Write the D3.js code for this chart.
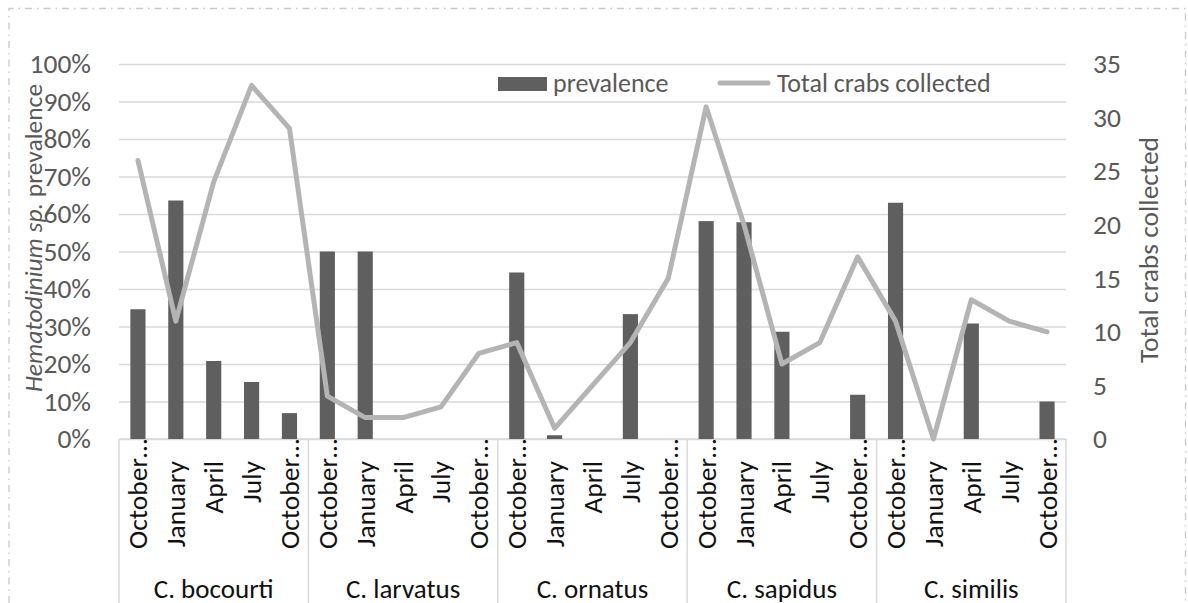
<!DOCTYPE html>
<html>
<head>
<meta charset="utf-8">
<script src="https://cdn.jsdelivr.net/npm/d3@7"></script>
<style>
  html, body { margin: 0; padding: 0; background: #fff; }
  svg { display: block; font-family: Carlito, Calibri, Lato, sans-serif; }
</style>
</head>
<body>
<svg id="chart" width="1188" height="603"></svg>
<script>
// Species groups and the sampling months within each group
const species = ["C. bocourti", "C. larvatus", "C. ornatus", "C. sapidus", "C. similis"];
const months = ["October…", "January", "April", "July", "October…"];

// Hematodinium sp. prevalence (fraction infected), one value per species × month
const prevBocourti = [0.346, 0.636, 0.208, 0.152, 0.069];
const prevLarvatus = [0.50, 0.50, 0, 0, 0];
const prevOrnatus  = [0.444, 0.01, 0, 0.333, 0];
const prevSapidus  = [0.581, 0.578, 0.286, 0, 0.118];
const prevSimilis  = [0.63, 0, 0.308, 0, 0.10];

// Total crabs collected, one value per species × month
const totBocourti = [26, 11, 24, 33, 29];
const totLarvatus = [4, 2, 2, 3, 8];
const totOrnatus  = [9, 1, 5, 9, 15];
const totSapidus  = [31, 20, 7, 9, 17];
const totSimilis  = [11, 0, 13, 11, 10];

const leftTicks = [0, 0.1, 0.2, 0.3, 0.4, 0.5, 0.6, 0.7, 0.8, 0.9, 1.0];
const rightTicks = [0, 5, 10, 15, 20, 25, 30, 35];

const prevalence = [prevBocourti, prevLarvatus, prevOrnatus, prevSapidus, prevSimilis];
const totals = [totBocourti, totLarvatus, totOrnatus, totSapidus, totSimilis];

// Flatten into one row per category slot
const rows = [];
species.forEach((sp, g) => {
  months.forEach((m, k) => {
    rows.push({ idx: rows.length, group: g, species: sp, month: m,
                prev: prevalence[g][k], total: totals[g][k] });
  });
});

const svg = d3.select("#chart");
const plot = { left: 119, right: 1066, top: 64, bottom: 439 };

const x = d3.scaleBand()
  .domain(rows.map(d => d.idx))
  .range([plot.left, plot.right])
  .paddingInner(0).paddingOuter(0);

const yL = d3.scaleLinear().domain([0, 1]).range([plot.bottom, plot.top]);
const yR = d3.scaleLinear().domain([0, 35]).range([plot.bottom, plot.top]);

const textGrey = "#595959";
const gridGrey = "#d9d9d9";
const barFill = "#5f5f5f";
const lineGrey = "#b4b4b4";
const fontStack = "Carlito, Calibri, Lato, sans-serif";

// Outer chart border (dash-dot)
svg.append("path")
  .attr("d", "M9,603 V8.5 H1185.5 V603")
  .attr("fill", "none")
  .attr("stroke", "#c8c8c8")
  .attr("stroke-width", 1.3)
  .attr("stroke-dasharray", "7,5,1.5,5");

// Horizontal gridlines
svg.append("g")
  .attr("transform", `translate(${plot.left},0)`)
  .call(d3.axisRight(yL).tickValues(leftTicks).tickSize(plot.right - plot.left).tickFormat(""))
  .call(g => g.select(".domain").remove())
  .call(g => g.selectAll(".tick line").attr("stroke", gridGrey).attr("stroke-width", 1.5));

// Left axis tick labels
svg.append("g")
  .attr("transform", `translate(${plot.left},0)`)
  .call(d3.axisLeft(yL).tickValues(leftTicks).tickSize(0).tickPadding(28).tickFormat(d3.format(".0%")))
  .call(g => g.select(".domain").remove())
  .call(g => g.selectAll("text").attr("fill", textGrey).style("font-size", "27.5px")
    .style("font-family", fontStack));

// Right axis tick labels
svg.append("g")
  .attr("transform", `translate(${plot.right},0)`)
  .call(d3.axisRight(yR).tickValues(rightTicks).tickSize(0).tickPadding(27))
  .call(g => g.select(".domain").remove())
  .call(g => g.selectAll("text").attr("fill", textGrey).style("font-size", "27.5px")
    .style("font-family", fontStack));

// Axis titles
const leftTitle = svg.append("text")
  .attr("transform", `translate(33,238) rotate(-90)`)
  .attr("text-anchor", "middle")
  .attr("dominant-baseline", "central")
  .attr("fill", textGrey)
  .style("font-size", "25.5px");
leftTitle.append("tspan").style("font-style", "italic").text("Hematodinium sp.");
leftTitle.append("tspan").text(" prevalence");

svg.append("text")
  .attr("transform", `translate(1148,250) rotate(-90)`)
  .attr("text-anchor", "middle")
  .attr("dominant-baseline", "central")
  .attr("fill", textGrey)
  .style("font-size", "27.5px")
  .text("Total crabs collected");

// Category axis baseline and group separators
svg.append("line")
  .attr("x1", plot.left).attr("x2", plot.right)
  .attr("y1", plot.bottom).attr("y2", plot.bottom)
  .attr("stroke", gridGrey).attr("stroke-width", 1.5);

const boundaries = d3.range(species.length + 1).map(g =>
  g < species.length ? x(g * months.length) : plot.right);
svg.append("g").selectAll("line")
  .data(boundaries)
  .join("line")
  .attr("x1", d => d).attr("x2", d => d)
  .attr("y1", plot.bottom).attr("y2", 603)
  .attr("stroke", gridGrey).attr("stroke-width", 1.5);

// Bars
const barW = x.bandwidth() * 0.4;
svg.append("g").selectAll("rect")
  .data(rows)
  .join("rect")
  .attr("x", d => x(d.idx) + (x.bandwidth() - barW) / 2)
  .attr("width", barW)
  .attr("y", d => yL(d.prev))
  .attr("height", d => yL(0) - yL(d.prev))
  .attr("fill", barFill);

// Total crabs line
const line = d3.line()
  .x(d => x(d.idx) + x.bandwidth() / 2)
  .y(d => yR(d.total));
svg.append("path")
  .datum(rows)
  .attr("d", line)
  .attr("fill", "none")
  .attr("stroke", lineGrey)
  .attr("stroke-width", 5)
  .attr("stroke-linejoin", "round")
  .attr("stroke-linecap", "round");

// Month labels (rotated)
svg.append("g").selectAll("text")
  .data(rows)
  .join("text")
  .attr("transform", d => `translate(${x(d.idx) + x.bandwidth() / 2},${d.month.endsWith("…") ? 439 : 461}) rotate(-90)`)
  .attr("text-anchor", "end")
  .attr("dominant-baseline", "central")
  .attr("fill", "#111")
  .style("font-size", "27.5px")
  .text(d => d.month);

// Species labels
svg.append("g").selectAll("text")
  .data(species)
  .join("text")
  .attr("x", (d, g) => (boundaries[g] + boundaries[g + 1]) / 2)
  .attr("y", 588)
  .attr("text-anchor", "middle")
  .attr("dominant-baseline", "central")
  .attr("fill", "#111")
  .style("font-size", "27px")
  .text(d => d);

// Legend
const legend = svg.append("g");
legend.append("rect")
  .attr("x", 498).attr("y", 77).attr("width", 49).attr("height", 14)
  .attr("fill", barFill);
legend.append("text")
  .attr("x", 553).attr("y", 83)
  .attr("dominant-baseline", "central")
  .attr("fill", textGrey)
  .style("font-size", "26px")
  .text("prevalence");
legend.append("line")
  .attr("x1", 720).attr("x2", 768).attr("y1", 83).attr("y2", 83)
  .attr("stroke", lineGrey).attr("stroke-width", 5).attr("stroke-linecap", "round");
legend.append("text")
  .attr("x", 777).attr("y", 83)
  .attr("dominant-baseline", "central")
  .attr("fill", textGrey)
  .style("font-size", "26px")
  .text("Total crabs collected");
</script>
</body>
</html>
